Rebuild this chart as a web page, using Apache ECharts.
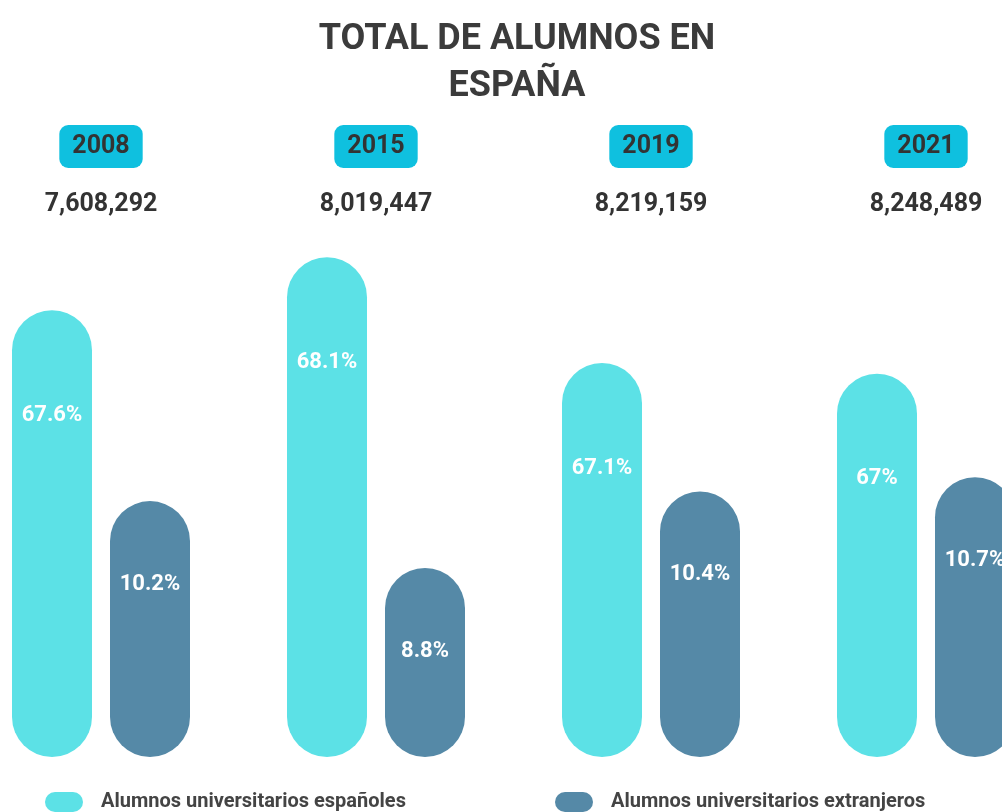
<!DOCTYPE html>
<html>
<head>
<meta charset="utf-8">
<title>Total de alumnos en España</title>
<script src="https://cdn.jsdelivr.net/npm/echarts@6/dist/echarts.min.js"></script>
<style>
    html, body { margin: 0; padding: 0; background: #ffffff; }
    #main { width: 1002px; height: 812px; }
</style>
</head>
<body>
<div id="main"></div>
<script>
// datos del gráfico
var years = ['2008', '2015', '2019', '2021'];
var totals = ['7,608,292', '8,019,447', '8,219,159', '8,248,489'];
var spanishPct = [67.6, 68.1, 67.1, 67];
var foreignPct = [10.2, 8.8, 10.4, 10.7];
var seriesNames = ['Alumnos universitarios españoles', 'Alumnos universitarios extranjeros'];

var font = 'Roboto, sans-serif';
// icono de leyenda en forma de pastilla
var pill = 'path://M10,0 H28 A10,10 0 0 1 28,20 H10 A10,10 0 0 1 10,0 Z';

var myChart = echarts.init(document.getElementById('main'));

var option = {
    backgroundColor: '#ffffff',
    animation: false,
    title: {
        text: 'TOTAL DE ALUMNOS EN\nESPAÑA',
        left: 512,
        textAlign: 'center',
        top: 11,
        textStyle: {
            fontFamily: font,
            fontWeight: 'bold',
            fontSize: 36,
            lineHeight: 47,
            color: '#3b3b3b'
        }
    },
    legend: [{
        data: [seriesNames[0]],
        left: 45,
        top: 792,
        padding: 0,
        itemWidth: 38,
        itemHeight: 21,
        icon: pill,
        textStyle: { fontFamily: font, fontWeight: 'bold', fontSize: 20, color: '#444', padding: [0, 0, 0, 13] }
    }, {
        data: [seriesNames[1]],
        left: 555,
        top: 792,
        padding: 0,
        itemWidth: 38,
        itemHeight: 21,
        icon: pill,
        textStyle: { fontFamily: font, fontWeight: 'bold', fontSize: 20, color: '#444', padding: [0, 0, 0, 13] }
    }],
    grid: {
        left: -36.5,
        right: -61.5,
        top: 245,
        bottom: 55,
        outerBoundsMode: 'none'
    },
    xAxis: [{
        // años en etiqueta azul
        type: 'category',
        data: years,
        position: 'top',
        offset: 69,
        axisLine: { show: false },
        axisTick: { show: false },
        axisLabel: {
            margin: 8,
            fontFamily: font,
            fontWeight: 'bold',
            fontSize: 25,
            lineHeight: 29,
            color: '#333',
            backgroundColor: '#0fc0df',
            borderRadius: 9,
            padding: [7, 13]
        }
    }, {
        // total de alumnos
        type: 'category',
        data: totals,
        position: 'top',
        offset: 20,
        axisLine: { show: false },
        axisTick: { show: false },
        axisLabel: {
            margin: 8,
            fontFamily: font,
            fontWeight: 'bold',
            fontSize: 25,
            color: '#333'
        }
    }],
    yAxis: [{
        type: 'value',
        show: false,
        min: 63.38,
        max: 68.215
    }, {
        type: 'value',
        show: false,
        min: 4.845,
        max: 15.56
    }],
    series: [{
        name: seriesNames[0],
        type: 'bar',
        yAxisIndex: 0,
        data: spanishPct,
        barWidth: 80,
        barGap: '22.5%',
        itemStyle: { color: '#5ce1e6', borderRadius: 40 },
        label: {
            show: true,
            position: 'insideTop',
            distance: 94,
            formatter: '{c}%',
            fontFamily: font,
            fontWeight: 'bold',
            fontSize: 22,
            color: '#ffffff'
        }
    }, {
        name: seriesNames[1],
        type: 'bar',
        yAxisIndex: 1,
        data: foreignPct,
        barWidth: 80,
        barGap: '22.5%',
        itemStyle: { color: '#5589a7', borderRadius: 40 },
        label: {
            show: true,
            position: 'insideTop',
            distance: 72,
            formatter: '{c}%',
            fontFamily: font,
            fontWeight: 'bold',
            fontSize: 22,
            color: '#ffffff'
        }
    }]
};

myChart.setOption(option);
</script>
</body>
</html>
